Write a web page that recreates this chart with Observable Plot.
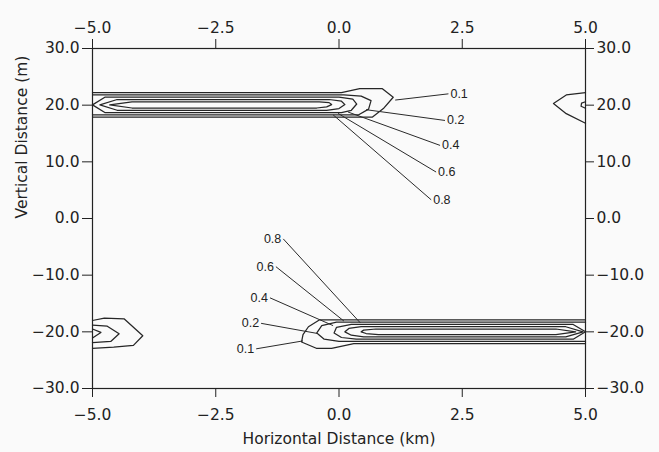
<!DOCTYPE html>
<html><head><meta charset="utf-8">
<script src="https://cdn.jsdelivr.net/npm/d3@7"></script>
<script src="https://cdn.jsdelivr.net/npm/@observablehq/plot@0.6"></script>
<style>body{margin:0;background:#fafafa;}</style>
</head><body><div id="chart"></div>
<script>
const xTicks = [-5, -2.5, 0, 2.5, 5];
const yTicks = [30, 20, 10, 0, -10, -20, -30];
const levels = [0.1, 0.2, 0.4, 0.6, 0.8];

// Upper plume (y ≈ 20 m): one path per level [km, m]
const upperPlume = [
  [[-5,22.2],[0.05,22.2],[0.42,22.9],[0.88,22.9],[1.1,21.4],[0.9,19.4],[0.68,17.9],[-5,17.9]],
  [[-5,21.8],[0.1,21.8],[0.45,21.6],[0.65,20.8],[0.6,19.3],[0.4,18.3],[-5,18.3]],
  [[-5,20.05],[-4.75,21.4],[0.0,21.4],[0.28,21.05],[0.36,20.2],[0.25,19.1],[0.05,18.7],[-4.75,18.7],[-5,20.05]],
  [[-4.85,20.05],[-4.5,21.0],[-0.2,21.0],[0.05,20.7],[0.12,20.1],[0.0,19.4],[-0.25,19.1],[-4.5,19.1],[-4.85,20.05]],
  [[-4.65,20.05],[-4.2,20.6],[-0.4,20.6],[-0.2,20.45],[-0.15,20.1],[-0.25,19.7],[-0.45,19.5],[-4.2,19.5],[-4.65,20.05]]
];
// Lower plume (y ≈ -20 m)
const lowerPlume = [
  [[5,-17.9],[-0.4,-17.9],[-0.62,-19.1],[-0.73,-20.5],[-0.76,-21.8],[-0.46,-22.9],[-0.15,-22.9],[0.3,-22.1],[5,-22.1]],
  [[5,-18.3],[-0.05,-18.3],[-0.35,-18.9],[-0.45,-20.2],[-0.3,-21.3],[0.0,-21.7],[5,-21.7]],
  [[5,-20.0],[4.75,-18.7],[0.25,-18.7],[-0.05,-19.2],[-0.1,-20.2],[0.05,-21.0],[0.35,-21.3],[4.75,-21.3],[5,-20.0]],
  [[4.95,-20.0],[4.6,-19.1],[0.45,-19.1],[0.2,-19.4],[0.12,-20.0],[0.25,-20.6],[0.5,-20.9],[4.6,-20.9],[4.95,-20.0]],
  [[4.8,-20.0],[4.4,-19.5],[0.75,-19.5],[0.5,-19.7],[0.45,-20.0],[0.55,-20.3],[0.8,-20.5],[4.4,-20.5],[4.8,-20.0]]
];
// Wrapped tails at the domain edges (levels 0.1, 0.2, 0.4)
const rightTail = [
  [[5,22.2],[4.61,21.8],[4.35,20.3],[4.61,18.5],[5,16.8]],
  [[5,20.6],[4.92,20.35],[4.91,19.8],[5,19.45]]
];
const leftTail = [
  [[-5,-18.0],[-4.76,-17.6],[-4.36,-17.7],[-3.98,-20.7],[-4.17,-22.4],[-4.57,-22.7],[-5,-22.9]],
  [[-5,-18.8],[-4.70,-19.0],[-4.46,-20.35],[-4.63,-21.7],[-5,-21.9]],
  [[-5,-19.5],[-4.83,-20.1],[-5,-21.1]]
];
// Label leaders: from contour (x1,y1) to label (x2,y2)
const upperLeaders = [
  {level: 0.1, x1: 1.14, y1: 20.9, x2: 2.22, y2: 22.0},
  {level: 0.2, x1: 0.55, y1: 19.2, x2: 2.15, y2: 17.3},
  {level: 0.4, x1: 0.18, y1: 18.8, x2: 2.05, y2: 12.9},
  {level: 0.6, x1: -0.02, y1: 18.55, x2: 1.97, y2: 8.2},
  {level: 0.8, x1: -0.12, y1: 18.3, x2: 1.87, y2: 3.3}
];
const lowerLeaders = [
  {level: 0.8, x1: 0.43, y1: -18.4, x2: -1.13, y2: -3.6},
  {level: 0.6, x1: 0.1, y1: -18.1, x2: -1.28, y2: -8.5},
  {level: 0.4, x1: -0.12, y1: -18.9, x2: -1.40, y2: -14.0},
  {level: 0.2, x1: -0.43, y1: -20.3, x2: -1.58, y2: -18.5},
  {level: 0.1, x1: -0.73, y1: -21.6, x2: -1.68, y2: -23.0}
];

const rows = [];
function addPaths(name, paths, lv) {
  paths.forEach((p, i) => p.forEach(([x, y]) => rows.push({id: name + i, level: lv[i], x, y})));
}
addPaths("u", upperPlume, levels);
addPaths("l", lowerPlume, levels);
addPaths("r", rightTail, levels);
addPaths("t", leftTail, levels);

const fmt = d3.format(".1f");
const ink = "#222";

const chart = Plot.plot({
  width: 659,
  height: 452,
  marginLeft: 92,
  marginRight: 74,
  marginTop: 48,
  marginBottom: 64,
  style: {fontFamily: "DejaVu Sans", fontSize: "15.5px", background: "#fafafa", color: ink},
  x: {domain: [-5, 5]},
  y: {domain: [-30, 30]},
  marks: [
    Plot.line(rows, {x: "x", y: "y", z: "id", stroke: "#262626", strokeWidth: 1.25, curve: "linear"}),
    Plot.link(upperLeaders, {x1: "x1", y1: "y1", x2: "x2", y2: "y2", stroke: "#2a2a2a", strokeWidth: 1}),
    Plot.link(lowerLeaders, {x1: "x1", y1: "y1", x2: "x2", y2: "y2", stroke: "#2a2a2a", strokeWidth: 1}),
    Plot.text(upperLeaders, {x: "x2", y: "y2", text: d => fmt(d.level), textAnchor: "start", dx: 2, fontSize: 12.5, fontFamily: "Liberation Sans", fill: ink}),
    Plot.text(lowerLeaders, {x: "x2", y: "y2", text: d => fmt(d.level), textAnchor: "end", dx: -2, fontSize: 12.5, fontFamily: "Liberation Sans", fill: ink}),
    Plot.frame({stroke: ink, strokeWidth: 1.2}),
    Plot.axisX({anchor: "bottom", ticks: xTicks, tickFormat: fmt, tickSize: 9, tickPadding: 11, label: null}),
    Plot.axisX({anchor: "top", ticks: xTicks, tickFormat: fmt, tickSize: 10, tickPadding: 6, label: null}),
    Plot.axisY({anchor: "left", ticks: yTicks, tickFormat: fmt, tickSize: 10, tickPadding: 3, label: null}),
    Plot.axisY({anchor: "right", ticks: yTicks, tickFormat: fmt, tickSize: 8, tickPadding: 3, label: null}),
    Plot.text(["Horizontal Distance (km)"], {frameAnchor: "bottom", dy: 55, fontSize: 15.5, fill: ink}),
    Plot.text(["Vertical Distance (m)"], {frameAnchor: "left", dx: -70, rotate: -90, fontSize: 15.5, fill: ink})
  ]
});
document.getElementById("chart").append(chart);
</script>
</body></html>
